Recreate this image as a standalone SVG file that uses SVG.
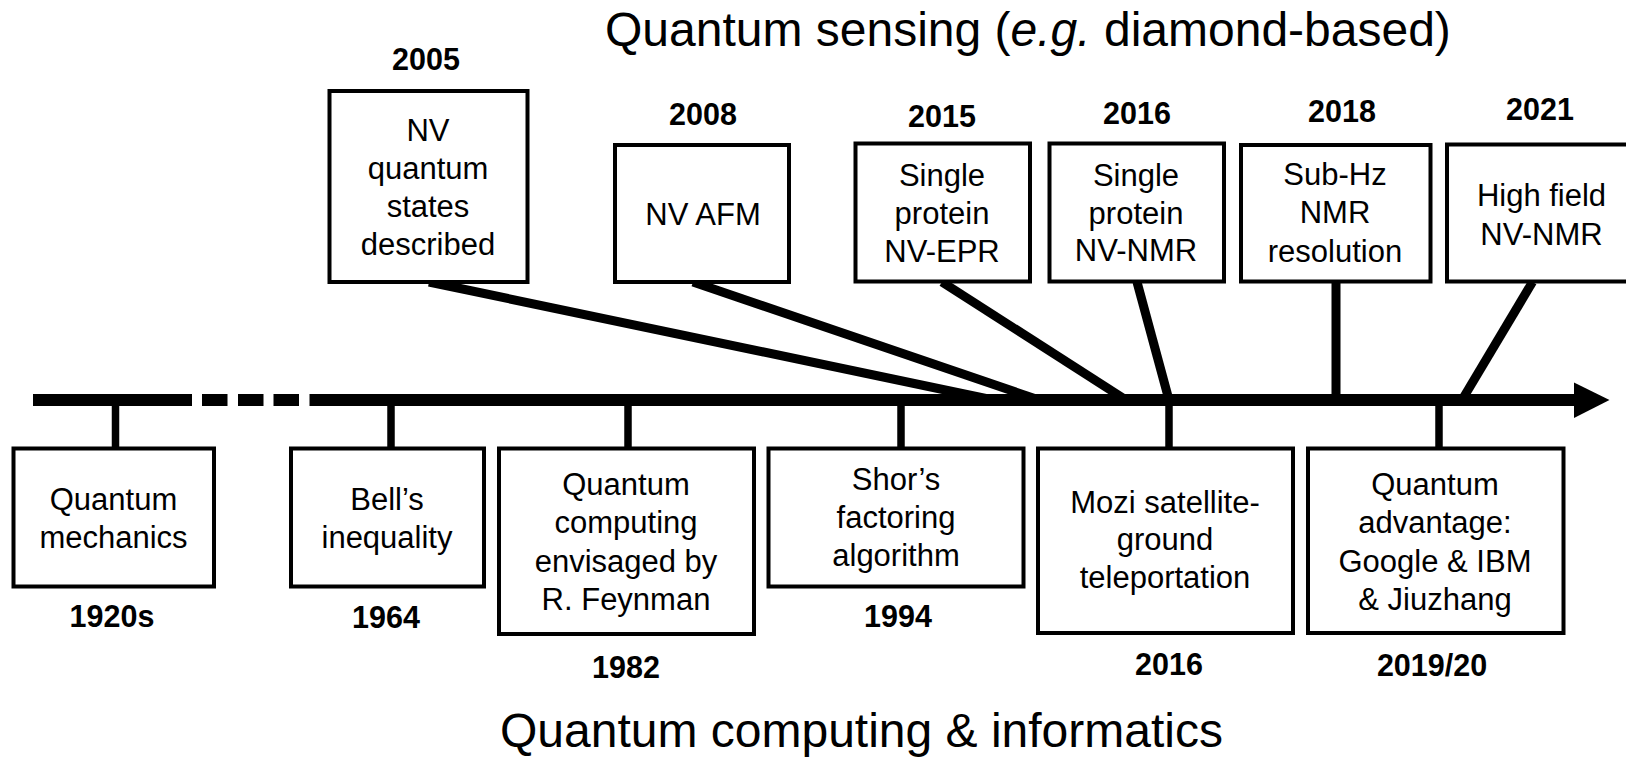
<svg xmlns="http://www.w3.org/2000/svg" width="1626" height="759" viewBox="0 0 1626 759">
<style>
.box{fill:#fff;stroke:#000;stroke-width:4}
.t{font-family:"Liberation Sans",Arial,sans-serif;font-size:31px;fill:#000;text-anchor:middle}
.y{font-family:"Liberation Sans",Arial,sans-serif;font-size:30.5px;font-weight:bold;fill:#000;text-anchor:middle}
.ttl{font-family:"Liberation Sans",Arial,sans-serif;font-size:48px;fill:#000}
.up{stroke:#000;stroke-width:9;fill:none}
.tick{stroke:#000;stroke-width:7.5;fill:none}
</style>
<rect width="1626" height="759" fill="#fff"/>
<text class="ttl" x="605" y="46">Quantum sensing (<tspan font-style="italic">e.g.</tspan> diamond-based)</text>
<text class="ttl" x="500" y="747">Quantum computing &amp; informatics</text>
<g id="timeline">
<rect x="33" y="394" width="159" height="12"/>
<rect x="202" y="394" width="25.5" height="12"/>
<rect x="238" y="394" width="25.5" height="12"/>
<rect x="273.5" y="394" width="25.5" height="12"/>
<rect x="309.5" y="394" width="1267" height="12"/>
<polygon points="1574,382.5 1609.5,400 1574,418"/>
</g>
<g id="connectors">
<line class="up" x1="429" y1="282" x2="993" y2="400"/>
<line class="up" x1="693" y1="282" x2="1039" y2="400"/>
<line class="up" x1="942" y1="282" x2="1126" y2="400"/>
<line class="up" x1="1137" y1="282" x2="1169" y2="400"/>
<line class="up" x1="1336" y1="282" x2="1336" y2="400"/>
<line class="up" x1="1532.5" y1="282" x2="1462" y2="400"/>
<line class="tick" x1="115.5" y1="400" x2="115.5" y2="449"/>
<line class="tick" x1="391" y1="400" x2="391" y2="449"/>
<line class="tick" x1="628" y1="400" x2="628" y2="449"/>
<line class="tick" x1="901" y1="400" x2="901" y2="449"/>
<line class="tick" x1="1169" y1="400" x2="1169" y2="449"/>
<line class="tick" x1="1439" y1="400" x2="1439" y2="449"/>
</g>
<g id="n2005">
<rect class="box" x="329.5" y="91" width="198" height="191"/>
<text class="y" x="426" y="70">2005</text>
<text class="t" x="428" y="141">NV</text>
<text class="t" x="428" y="178.5">quantum</text>
<text class="t" x="428" y="216.5">states</text>
<text class="t" x="428" y="255">described</text>
</g>
<g id="n2008">
<rect class="box" x="615" y="145" width="174" height="137"/>
<text class="y" x="703" y="125">2008</text>
<text class="t" x="703" y="225">NV AFM</text>
</g>
<g id="n2015">
<rect class="box" x="855.5" y="143.5" width="174.5" height="138"/>
<text class="y" x="942" y="127">2015</text>
<text class="t" x="942" y="186">Single</text>
<text class="t" x="942" y="224">protein</text>
<text class="t" x="942" y="262">NV-EPR</text>
</g>
<g id="n2016s">
<rect class="box" x="1049.5" y="143.5" width="174.5" height="138"/>
<text class="y" x="1137" y="124">2016</text>
<text class="t" x="1136" y="186">Single</text>
<text class="t" x="1136" y="224">protein</text>
<text class="t" x="1136" y="261">NV-NMR</text>
</g>
<g id="n2018">
<rect class="box" x="1241" y="145" width="189.5" height="136.5"/>
<text class="y" x="1342" y="122">2018</text>
<text class="t" x="1335" y="185">Sub-Hz</text>
<text class="t" x="1335" y="223">NMR</text>
<text class="t" x="1335" y="262">resolution</text>
</g>
<g id="n2021">
<rect class="box" x="1447" y="144.5" width="189" height="137"/>
<text class="y" x="1540" y="120">2021</text>
<text class="t" x="1541.5" y="206">High field</text>
<text class="t" x="1541.5" y="245">NV-NMR</text>
</g>
<g id="n1920s">
<rect class="box" x="13.5" y="448.5" width="200.5" height="138"/>
<text class="t" x="113.5" y="510">Quantum</text>
<text class="t" x="113.5" y="548">mechanics</text>
<text class="y" x="112" y="627">1920s</text>
</g>
<g id="n1964">
<rect class="box" x="291" y="448.5" width="193" height="138"/>
<text class="t" x="387" y="510">Bell’s</text>
<text class="t" x="387" y="548">inequality</text>
<text class="y" x="386" y="628">1964</text>
</g>
<g id="n1982">
<rect class="box" x="499" y="448.5" width="255" height="185.5"/>
<text class="t" x="626" y="495">Quantum</text>
<text class="t" x="626" y="533">computing</text>
<text class="t" x="626" y="572">envisaged by</text>
<text class="t" x="626" y="610">R. Feynman</text>
<text class="y" x="626" y="678">1982</text>
</g>
<g id="n1994">
<rect class="box" x="768.5" y="448.5" width="255" height="138"/>
<text class="t" x="896" y="490">Shor’s</text>
<text class="t" x="896" y="528">factoring</text>
<text class="t" x="896" y="566">algorithm</text>
<text class="y" x="898" y="627">1994</text>
</g>
<g id="n2016c">
<rect class="box" x="1038" y="448.5" width="255" height="184.5"/>
<text class="t" x="1165" y="513">Mozi satellite-</text>
<text class="t" x="1165" y="550">ground</text>
<text class="t" x="1165" y="588">teleportation</text>
<text class="y" x="1169" y="675">2016</text>
</g>
<g id="n2019">
<rect class="box" x="1308" y="448.5" width="255.5" height="184.5"/>
<text class="t" x="1435" y="495">Quantum</text>
<text class="t" x="1435" y="533">advantage:</text>
<text class="t" x="1435" y="572">Google &amp; IBM</text>
<text class="t" x="1435" y="610">&amp; Jiuzhang</text>
<text class="y" x="1432" y="676">2019/20</text>
</g>
</svg>
